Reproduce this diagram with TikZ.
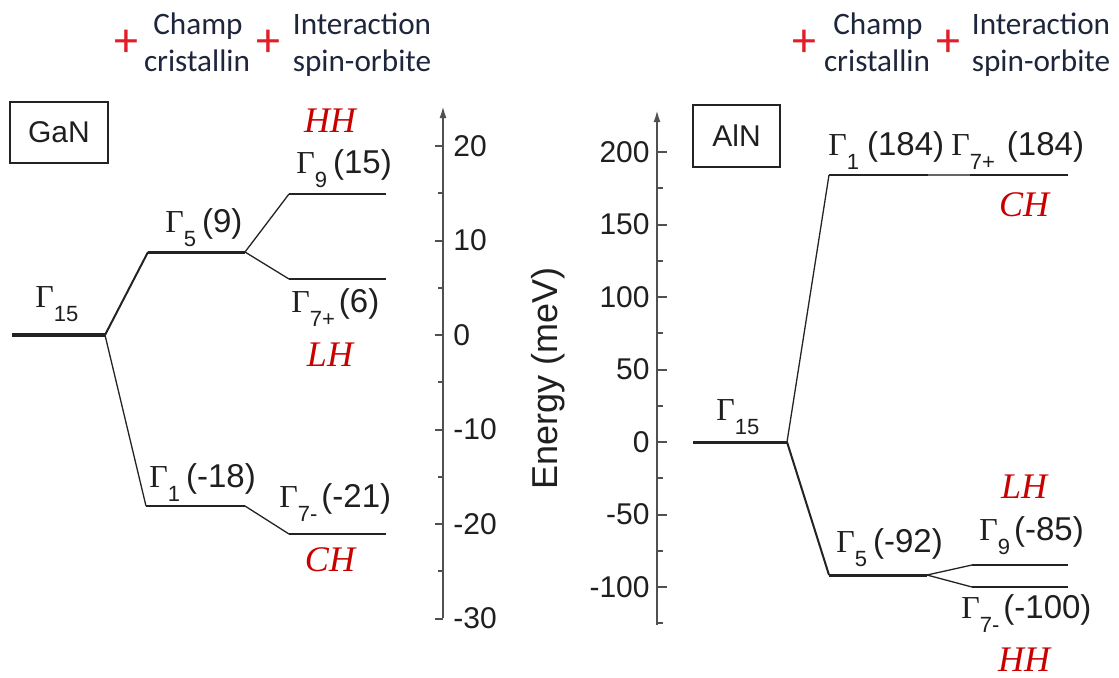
\documentclass[tikz,border=0pt]{standalone}
\usepackage{fontspec}
\setmainfont{Liberation Sans}
\newfontfamily\gserif{Liberation Serif}
\newfontfamily\calib{Carlito}
\usetikzlibrary{arrows.meta}
\definecolor{lvl}{RGB}{35,35,35}
\definecolor{axc}{RGB}{80,80,80}
\definecolor{redl}{RGB}{200,0,0}
\definecolor{plusred}{RGB}{225,30,40}
\definecolor{hdrc}{RGB}{30,38,60}
\newcommand\Gm[3]{{\gserif\fontsize{16}{16}\selectfont Γ}\raisebox{-7pt}{\fontsize{11}{11}\selectfont #1}\hspace{#2}#3}
\tikzset{
  lev/.style={draw=lvl, line width=1pt},
  levthick/.style={draw=lvl, line width=2pt},
  levmed/.style={draw=lvl, line width=1.5pt},
  conn/.style={draw=lvl, line width=0.65pt},
  connthick/.style={draw=lvl, line width=1pt},
  axisline/.style={draw=axc, line width=1pt},
  lbl/.style={anchor=base west, inner sep=0pt, text=black!88, font=\fontsize{16.5}{18}\selectfont},
  ticklbl/.style={inner sep=0pt, text=black!88, font=\fontsize{15}{18}\selectfont},
  hole/.style={inner sep=0pt, text=redl, font=\gserif\itshape\fontsize{18}{18}\selectfont},
  hdr/.style={anchor=base, inner sep=0pt, text=hdrc, font=\calib\fontsize{15.6}{16}\selectfont},
  plussign/.style={inner sep=0pt, text=plusred, font=\calib\fontsize{24}{24}\selectfont},
  matbox/.style={draw=lvl, line width=0.75pt, inner sep=0pt, text=black!88, font=\fontsize{15}{18}\selectfont},
}
\begin{document}
\begin{tikzpicture}[x=0.5pt, y=-0.5pt]
\useasboundingbox (0,0) rectangle (1119,677);
% ---------- headers ----------
\node[plussign] (p1) at (126,43) {+};
\node[hdr] (c1a) at (198,34) {Champ};
\node[hdr] (c1b) at (197,71) {cristallin};
\node[plussign] (p2) at (268,43) {+};
\node[hdr] (i1a) at (362,34) {Interaction};
\node[hdr] (i1b) at (362,71) {spin-orbite};
\node[plussign] (p3) at (804,43) {+};
\node[hdr] (c2a) at (878,34) {Champ};
\node[hdr] (c2b) at (877,71) {cristallin};
\node[plussign] (p4) at (948,43) {+};
\node[hdr] (i2a) at (1041,34) {Interaction};
\node[hdr] (i2b) at (1041,71) {spin-orbite};
% ---------- boxes ----------
\node[matbox, minimum width=49pt, minimum height=30.5pt] (gan) at (59,132.5) {GaN};
\node[matbox, minimum width=43.5pt, minimum height=31pt] (aln) at (736.5,136) {AlN};
% ---------- GaN axis ----------
\coordinate (gax0) at (443,618);
\coordinate (gax1) at (443,106);
\draw[axisline, -{Latex[length=6pt,width=3.5pt]}] (gax0) -- (gax1);
\foreach \E in {20,10,0,-10,-20,-30}{
  \draw[axisline] (443,{335-9.45*\E}) -- ++(-8,0);
  \node[ticklbl, anchor=west] at (453,{335-9.45*\E}) {\E};
}
\foreach \E in {15,5,-5,-15,-25}{
  \draw[axisline] (443,{335-9.45*\E}) -- ++(-5,0);
}
% ---------- AlN axis ----------
\coordinate (aax0) at (657,625);
\coordinate (aax1) at (657,110);
\draw[axisline, -{Latex[length=6pt,width=3.5pt]}] (aax0) -- (aax1);
\foreach \E in {200,150,100,50,0,-50,-100}{
  \draw[axisline] (657,{442-1.45*\E}) -- ++(10,0);
  \node[ticklbl, anchor=east] at (650,{442-1.45*\E}) {\E};
}
\foreach \E in {175,125,75,25,-25,-75,-125}{
  \draw[axisline] (657,{442-1.45*\E}) -- ++(6,0);
}
\node[ticklbl, anchor=base, rotate=90, font=\fontsize{18}{20}\selectfont] (elab) at (557,378) {Energy (meV)};
% ---------- GaN levels ----------
\coordinate (g15a) at (12,335);  \coordinate (g15b) at (105,335);
\coordinate (g5a) at (148,252);  \coordinate (g5b) at (245,252);
\coordinate (g9a) at (289,194);  \coordinate (g9b) at (386,194);
\coordinate (g7pa) at (289,279); \coordinate (g7pb) at (386,279);
\coordinate (g1a) at (146,506);  \coordinate (g1b) at (245,506);
\coordinate (g7ma) at (289,534); \coordinate (g7mb) at (386,534);
\draw[levthick] (g15a) -- (g15b);
\draw[levmed] (g5a) -- (g5b);
\draw[lev] (g9a) -- (g9b);
\draw[lev] (g7pa) -- (g7pb);
\draw[lev] (g1a) -- (g1b);
\draw[lev] (g7ma) -- (g7mb);
\draw[connthick] (g15b) -- (g5a);
\draw[conn] (g15b) -- (g1a);
\draw[conn] (g5b) -- (g9a);
\draw[conn] (g5b) -- (g7pa);
\draw[conn] (g1b) -- (g7ma);
% GaN labels
\node[lbl] (lg15) at (35,307) {\Gm{15}{0pt}{}};
\node[lbl] (lg5) at (165,232) {\Gm{5}{3pt}{(9)}};
\node[lbl] (lg9) at (296,173) {\Gm{9}{3pt}{(15)}};
\node[lbl] (lg7p) at (291,312) {\Gm{7+}{2pt}{(6)}};
\node[lbl] (lg1) at (149,487) {\Gm{1}{3pt}{(-18)}};
\node[lbl] (lg7m) at (279,507) {\Gm{7-}{2pt}{(-21)}};
\node[hole] (ghh) at (330,121) {HH};
\node[hole] (glh) at (330,355) {LH};
\node[hole] (gch) at (330,560) {CH};
% ---------- AlN levels ----------
\coordinate (a15a) at (693,442); \coordinate (a15b) at (787,442);
\coordinate (a1a) at (829,175);  \coordinate (a1b) at (928,175);
\coordinate (a7pa) at (970,175); \coordinate (a7pb) at (1068,175);
\coordinate (a5a) at (829,575);  \coordinate (a5b) at (927,575);
\coordinate (a9a) at (972,565);  \coordinate (a9b) at (1068,565);
\coordinate (a7ma) at (972,587); \coordinate (a7mb) at (1068,587);
\draw[levmed] (a15a) -- (a15b);
\draw[lev] (a1a) -- (a1b);
\draw[draw=lvl!70, line width=0.7pt] (a1b) -- (a7pa);
\draw[lev] (a7pa) -- (a7pb);
\draw[levmed] (a5a) -- (a5b);
\draw[lev] (a9a) -- (a9b);
\draw[lev] (a7ma) -- (a7mb);
\draw[conn] (a15b) -- (a1a);
\draw[connthick] (a15b) -- (a5a);
\draw[conn] (a5b) -- (a9a);
\draw[conn] (a5b) -- (a7ma);
% AlN labels
\node[lbl] (la15) at (716,420) {\Gm{15}{0pt}{}};
\node[lbl] (la1) at (828,155) {\Gm{1}{4pt}{(184)}};
\node[lbl] (la7p) at (951,155) {\Gm{7+}{6pt}{(184)}};
\node[lbl] (la5) at (836,552) {\Gm{5}{3pt}{(-92)}};
\node[lbl] (la9) at (979,540) {\Gm{9}{2pt}{(-85)}};
\node[lbl] (la7m) at (961,618) {\Gm{7-}{2pt}{(-100)}};
\node[hole] (ach) at (1024,205) {CH};
\node[hole] (alh) at (1024,487) {LH};
\node[hole] (ahh) at (1024,660) {HH};
\end{tikzpicture}
\end{document}
